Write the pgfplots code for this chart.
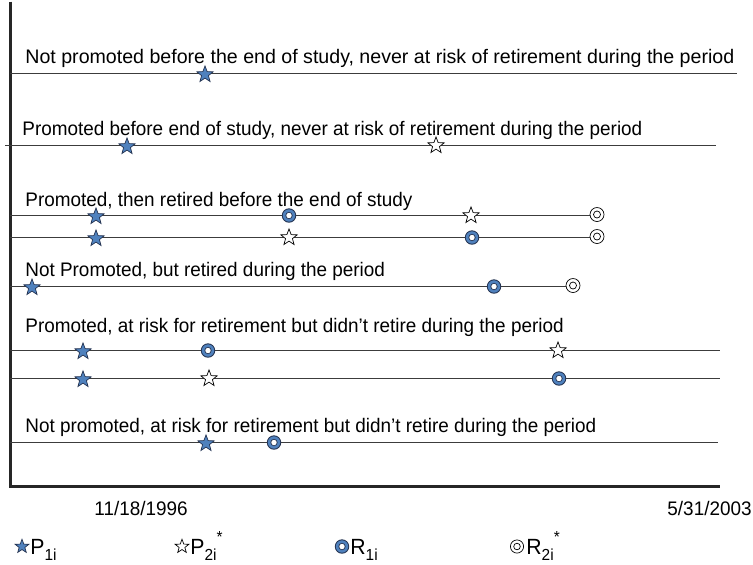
\documentclass[border=0pt]{standalone}
\usepackage{pgfplots}
\pgfplotsset{compat=1.18}
\usepackage{fontspec}
\usepackage{graphicx}
\setmainfont{Liberation Sans}
\definecolor{sblue}{RGB}{79,129,189}
\definecolor{sedge}{RGB}{35,50,80}
\definecolor{lgray}{RGB}{60,60,60}

\pgfdeclareplotmark{fstar}{%
 \pgfpathmoveto{\pgfpointpolar{90}{\pgfplotmarksize}}%
 \pgfpathlineto{\pgfpointpolar{126}{0.42\pgfplotmarksize}}%
 \pgfpathlineto{\pgfpointpolar{162}{\pgfplotmarksize}}%
 \pgfpathlineto{\pgfpointpolar{198}{0.42\pgfplotmarksize}}%
 \pgfpathlineto{\pgfpointpolar{234}{\pgfplotmarksize}}%
 \pgfpathlineto{\pgfpointpolar{270}{0.42\pgfplotmarksize}}%
 \pgfpathlineto{\pgfpointpolar{306}{\pgfplotmarksize}}%
 \pgfpathlineto{\pgfpointpolar{342}{0.42\pgfplotmarksize}}%
 \pgfpathlineto{\pgfpointpolar{18}{\pgfplotmarksize}}%
 \pgfpathlineto{\pgfpointpolar{54}{0.42\pgfplotmarksize}}%
 \pgfpathclose\pgfusepathqfillstroke}

\pgfdeclareplotmark{ring}{%
 \pgfsetfillcolor{sedge}\pgfpathcircle{\pgfpointorigin}{\pgfplotmarksize}\pgfusepathqfill
 \pgfsetfillcolor{sblue}\pgfpathcircle{\pgfpointorigin}{0.86\pgfplotmarksize}\pgfusepathqfill
 \pgfsetfillcolor{sedge}\pgfpathcircle{\pgfpointorigin}{0.5\pgfplotmarksize}\pgfusepathqfill
 \pgfsetfillcolor{white}\pgfpathcircle{\pgfpointorigin}{0.38\pgfplotmarksize}\pgfusepathqfill}

\pgfdeclareplotmark{dcirc}{%
 \pgfpathcircle{\pgfpointorigin}{\pgfplotmarksize}\pgfusepathqfillstroke
 \pgfpathcircle{\pgfpointorigin}{0.5\pgfplotmarksize}\pgfusepathqstroke}

\pgfplotsset{
 tl/.style={lgray, line width=0.6pt, mark=none},
 P1/.style={only marks, mark=fstar, mark size=4.3pt, mark options={fill=sblue, draw=sedge, line width=0.35pt}},
 P2/.style={only marks, mark=fstar, mark size=4.3pt, mark options={fill=white, draw=black, line width=0.35pt}},
 R1/.style={only marks, mark=ring, mark size=3.6pt},
 R2/.style={only marks, mark=dcirc, mark size=3.5pt, mark options={fill=white, draw=black, line width=0.35pt}},
}
\newcommand{\lbl}{\fontsize{9.8}{11}\selectfont}
\newcommand{\lgd}{\fontsize{11}{12}\selectfont}
\newcommand{\nt}[1]{\scalebox{0.965}[1]{#1}}
\newcommand{\lsub}[1]{\raisebox{-0.5ex}{\fontsize{8}{9}\selectfont #1}}
\newcommand{\lsup}{\raisebox{1.0ex}{\fontsize{8}{9}\selectfont *}}

\begin{document}
\begin{tikzpicture}
\begin{axis}[scale only axis, width=376.5pt, height=281.5pt,
  xmin=0, xmax=753, ymin=0, ymax=563, y dir=reverse,
  hide axis, clip=false]
\addplot[draw=none] coordinates {(0,0) (753,563)};
% frame
\addplot[black!85, line width=1.5pt, line join=miter] coordinates {(10,0) (10,485) (720,485)};
% timelines
\addplot[tl] coordinates {(10,72) (737,72)};
\addplot[tl] coordinates {(5,144) (716,144)};
\addplot[tl] coordinates {(10,214) (597,214)};
\addplot[tl] coordinates {(10,236) (597,236)};
\addplot[tl] coordinates {(10,285) (573,285)};
\addplot[tl] coordinates {(10,349) (720,349)};
\addplot[tl] coordinates {(10,377) (720,377)};
\addplot[tl] coordinates {(10,441) (718,441)};
% P1 (filled star)
\addplot[P1] coordinates {(205,73) (127,145) (96,215) (96,237) (32,286) (83,350) (83,378) (206,442)};
% P2* (open star)
\addplot[P2] coordinates {(436,144) (471,214) (289,236) (558,349) (209,377)};
% R1 (blue ring)
\addplot[R1] coordinates {(289,214) (472,236) (494,285) (208,349) (559,377) (274,441)};
% R2* (double circle)
\addplot[R2] coordinates {(597,213) (597,235) (573,284)};
% legend symbols
\addplot[P1, mark size=3.6pt] coordinates {(22,545)};
\addplot[P2, mark size=3.6pt] coordinates {(182,545)};
\addplot[R1, mark size=3.6pt] coordinates {(342,545)};
\addplot[R2, mark size=3.3pt] coordinates {(517,545)};
% texts
\node[anchor=base west, inner sep=0, font=\lbl] at (axis cs:25,62) {Not promoted before the end of study, never at risk of retirement during the period};
\node[anchor=base west, inner sep=0, font=\lbl] at (axis cs:22,134) {\nt{Promoted before end of study, never at risk of retirement during the period}};
\node[anchor=base west, inner sep=0, font=\lbl] at (axis cs:25,205) {\nt{Promoted, then retired before the end of study}};
\node[anchor=base west, inner sep=0, font=\lbl] at (axis cs:25,275) {\nt{Not Promoted, but retired during the period}};
\node[anchor=base west, inner sep=0, font=\lbl] at (axis cs:25,331) {\nt{Promoted, at risk for retirement but didn't retire during the period}};
\node[anchor=base west, inner sep=0, font=\lbl] at (axis cs:25,431) {\nt{Not promoted, at risk for retirement but didn't retire during the period}};
\node[anchor=base west, inner sep=0, font=\lbl] at (axis cs:94,514) {\nt{11/18/1996}};
\node[anchor=base east, inner sep=0, font=\lbl] at (axis cs:752,514) {\nt{5/31/2003}};
\node[anchor=base west, inner sep=0, font=\lgd] at (axis cs:30,553) {\nt{P\lsub{1i}}};
\node[anchor=base west, inner sep=0, font=\lgd] at (axis cs:190,553) {\nt{P\lsub{2i}\lsup}};
\node[anchor=base west, inner sep=0, font=\lgd] at (axis cs:350,553) {\nt{R\lsub{1i}}};
\node[anchor=base west, inner sep=0, font=\lgd] at (axis cs:526,553) {\nt{R\lsub{2i}\lsup}};
\end{axis}
\end{tikzpicture}
\end{document}
